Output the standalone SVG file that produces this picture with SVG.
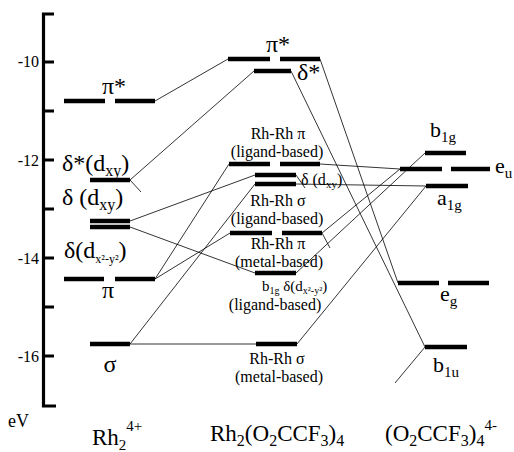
<svg xmlns="http://www.w3.org/2000/svg" width="514" height="452" viewBox="0 0 514 452">
<style>
.ax{stroke:#000;stroke-width:3.2;fill:none}
.lv{stroke:#000;stroke-width:4.5;fill:none}
.cn{stroke:#000;stroke-width:0.8;fill:none}
text{fill:#000;font-family:"Liberation Serif","Liberation Sans",sans-serif}
.num{font-size:16px;text-anchor:end}
.big{font-size:22px}
.bot{font-size:23px}
.lab{font-size:24px}
.mid{font-size:16px;text-anchor:middle}
.c{text-anchor:middle}
</style>
<rect width="514" height="452" fill="#fff"/>
<g id="axis">
<path class="ax" d="M54,14 H43.5 V406 H56"/>
<path class="ax" d="M43.5,62 H54 M43.5,111 H54 M43.5,160 H54 M43.5,209 H54 M43.5,258 H54 M43.5,307 H54 M43.5,356 H54"/>
<text class="num" x="39" y="67">-10</text>
<text class="num" x="39" y="166">-12</text>
<text class="num" x="39" y="264">-14</text>
<text class="num" x="39" y="362">-16</text>
<text x="8" y="427" font-size="18">eV</text>
</g>
<g id="connectors">
<line class="cn" x1="155" y1="101" x2="228" y2="59"/>
<line class="cn" x1="130" y1="180" x2="254" y2="71"/>
<line class="cn" x1="130" y1="180" x2="141" y2="192"/>
<line class="cn" x1="130" y1="221" x2="255" y2="175"/>
<line class="cn" x1="130" y1="227" x2="255" y2="273"/>
<line class="cn" x1="155" y1="279" x2="229" y2="164"/>
<line class="cn" x1="155" y1="279" x2="230" y2="233"/>
<line class="cn" x1="130" y1="344" x2="255" y2="184"/>
<line class="cn" x1="130" y1="344" x2="256" y2="344"/>
<line class="cn" x1="320" y1="59" x2="398" y2="283"/>
<line class="cn" x1="291" y1="71" x2="425" y2="347"/>
<line class="cn" x1="320" y1="164" x2="400" y2="169"/>
<line class="cn" x1="296" y1="175" x2="305" y2="188"/>
<line class="cn" x1="296" y1="184" x2="426" y2="186"/>
<line class="cn" x1="322" y1="233" x2="400" y2="169"/>
<line class="cn" x1="322" y1="233" x2="330" y2="248"/>
<line class="cn" x1="296" y1="273" x2="425" y2="153"/>
<line class="cn" x1="297" y1="344" x2="426" y2="186"/>
<line class="cn" x1="425" y1="347" x2="395" y2="383"/>
</g>
<g id="rh2-pistar">
<path class="lv" d="M64,101 H105 M115,101 H155"/>
<text class="lab c" x="114" y="94">π*</text>
</g>
<g id="rh2-deltastar">
<path class="lv" d="M90,180 H130"/>
<text class="lab" x="62" y="171">δ*(d<tspan dy="5" font-size="16">xy</tspan><tspan dy="-5">)</tspan></text>
</g>
<g id="rh2-delta">
<path class="lv" d="M90,221 H130 M90,227 H130"/>
<text class="lab" x="62" y="205">δ (d<tspan dy="5" font-size="16">xy</tspan><tspan dy="-5">)</tspan></text>
<text class="lab" x="64" y="258">δ(d<tspan dy="5" font-size="12">x²-y²</tspan><tspan dy="-5">)</tspan></text>
</g>
<g id="rh2-pi">
<path class="lv" d="M64,279 H104 M115,279 H155"/>
<text class="lab c" x="108" y="298">π</text>
</g>
<g id="rh2-sigma">
<path class="lv" d="M90,344 H130"/>
<text class="lab c" x="110" y="372">σ</text>
</g>
<text class="bot" x="92" y="445">Rh<tspan dy="5" font-size="15">2</tspan><tspan dy="-19" font-size="15">4+</tspan></text>
<g id="mid-pistar">
<path class="lv" d="M228,59 H270 M280,59 H320"/>
<text class="lab c" x="278" y="52">π*</text>
</g>
<g id="mid-deltastar">
<path class="lv" d="M254,71 H291"/>
<text class="lab" x="297" y="80">δ*</text>
</g>
<g id="mid-pi-lig">
<path class="lv" d="M229,164 H270 M280,164 H320"/>
<text class="mid" x="278" y="139">Rh-Rh π</text>
<text class="mid" x="277" y="157">(ligand-based)</text>
</g>
<g id="mid-delta">
<path class="lv" d="M255,175 H296"/>
<text x="301" y="185" font-size="16">δ (d<tspan dy="3" font-size="11">xy</tspan><tspan dy="-3">)</tspan></text>
</g>
<g id="mid-sigma-lig">
<path class="lv" d="M255,184 H296"/>
<text class="mid" x="278" y="206">Rh-Rh σ</text>
<text class="mid" x="277" y="224">(ligand-based)</text>
</g>
<g id="mid-pi-metal">
<path class="lv" d="M230,233 H272 M282,233 H322"/>
<text class="mid" x="278" y="249">Rh-Rh π</text>
<text class="mid" x="279" y="267">(metal-based)</text>
</g>
<g id="mid-b1g">
<path class="lv" d="M255,273 H296"/>
<text x="262" y="291" font-size="15">b<tspan dy="3" font-size="10">1g</tspan><tspan dy="-3"> δ(d</tspan><tspan dy="3" font-size="10">x²-y²</tspan><tspan dy="-3">)</tspan></text>
<text class="mid" x="275" y="310">(ligand-based)</text>
</g>
<g id="mid-sigma-metal">
<path class="lv" d="M256,344 H297"/>
<text class="mid" x="277" y="364">Rh-Rh σ</text>
<text class="mid" x="279" y="382">(metal-based)</text>
</g>
<text class="bot" x="210" y="441">Rh<tspan dy="5" font-size="16">2</tspan><tspan dy="-5">(O</tspan><tspan dy="5" font-size="16">2</tspan><tspan dy="-5">CCF</tspan><tspan dy="5" font-size="16">3</tspan><tspan dy="-5">)</tspan><tspan dy="5" font-size="16">4</tspan></text>
<g id="lig-b1g">
<path class="lv" d="M425,153 H466"/>
<text class="big" x="430" y="137">b<tspan dy="5" font-size="15">1g</tspan></text>
</g>
<g id="lig-eu">
<path class="lv" d="M400,169 H442 M451,169 H490"/>
<text class="big" x="495" y="173">e<tspan dy="5" font-size="15">u</tspan></text>
</g>
<g id="lig-a1g">
<path class="lv" d="M426,186 H468"/>
<text class="big" x="437" y="205">a<tspan dy="5" font-size="15">1g</tspan></text>
</g>
<g id="lig-eg">
<path class="lv" d="M398,283 H439 M448,283 H489"/>
<text class="big" x="440" y="301">e<tspan dy="5" font-size="15">g</tspan></text>
</g>
<g id="lig-b1u">
<path class="lv" d="M425,347 H467"/>
<text class="big" x="433" y="372">b<tspan dy="5" font-size="15">1u</tspan></text>
</g>
<text class="bot" x="385" y="441">(O<tspan dy="5" font-size="16">2</tspan><tspan dy="-5">CCF</tspan><tspan dy="5" font-size="16">3</tspan><tspan dy="-5">)</tspan><tspan dy="5" font-size="16">4</tspan><tspan dy="-16" font-size="15">4-</tspan></text>
</svg>
